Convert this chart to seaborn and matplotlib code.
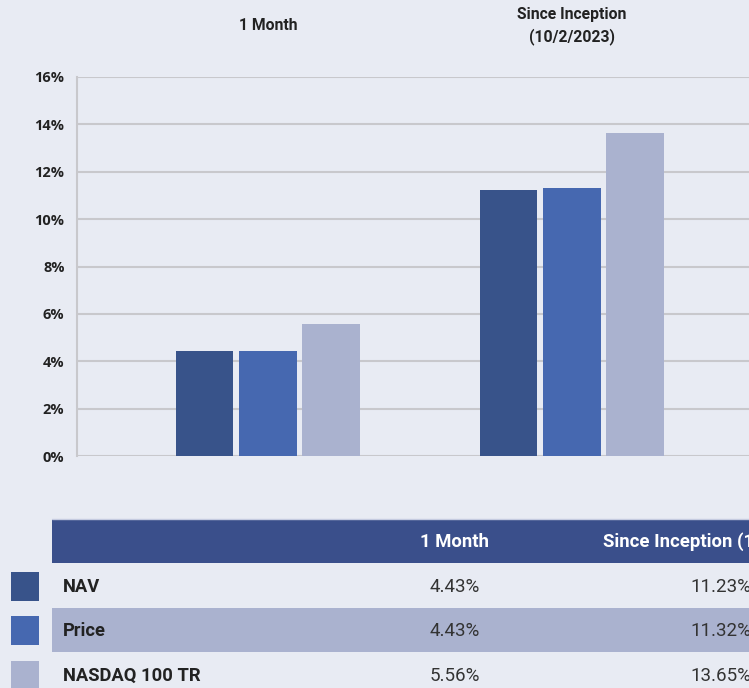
import pandas as pd
import seaborn as sns
import matplotlib.pyplot as plt
from matplotlib.patches import Rectangle
from matplotlib.ticker import FuncFormatter

periods = ["1 Month", "Since Inception\n(10/2/2023)"]
period_headers = ["1 Month", "Since Inception (10/2/2023)"]
series = ["NAV", "Price", "NASDAQ 100 TR"]
nav = [4.43, 11.23]
price = [4.43, 11.32]
nasdaq = [5.56, 13.65]
colors = ["#38538a", "#4668b0", "#aab2cf"]

BG = "#e8ebf3"
GRID = "#c8c8cc"
TXT = "#222222"

df = pd.DataFrame({
    "period": periods * 3,
    "series": [s for s in series for _ in periods],
    "value": nav + price + nasdaq,
})

sns.set_theme(style="white")
plt.rcParams["font.family"] = ["Roboto", "DejaVu Sans"]

W, H = 749, 688
fig = plt.figure(figsize=(W / 100, H / 100), dpi=100, facecolor=BG)

# chart area in pixel terms
left, right, top, bottom = 77, 749, 77, 456
ax = fig.add_axes([left / W, 1 - bottom / H, (right - left) / W, (bottom - top) / H])
ax.set_facecolor(BG)

sns.barplot(
    data=df, x="period", y="value", hue="series",
    order=periods, hue_order=series, palette=colors,
    width=0.625, gap=0.09, saturation=1, linewidth=0,
    legend=False, ax=ax,
)

ax.set_ylim(0, 16)
ax.set_yticks(range(0, 17, 2))
ax.yaxis.set_major_formatter(FuncFormatter(lambda v, _: f"{v:.0f}%"))
ax.set_xlim(-0.628, -0.628 + (right - left) / 304)
ax.grid(axis="y", color=GRID, linewidth=1.5)
ax.set_axisbelow(True)
for s in ["top", "right", "bottom"]:
    ax.spines[s].set_visible(False)
ax.spines["left"].set_color(GRID)
ax.spines["left"].set_linewidth(1.5)
ax.set_xlabel("")
ax.set_ylabel("")

ax.tick_params(axis="y", length=0, pad=9)
for t in ax.get_yticklabels():
    t.set_fontfamily(["Open Sans", "DejaVu Sans"])
    t.set_fontweight("bold")
    t.set_fontsize(10.5)
    t.set_color(TXT)

ax.xaxis.tick_top()
ax.tick_params(axis="x", length=0, pad=37)
for t in ax.get_xticklabels():
    t.set_va("center")
    t.set_fontweight("bold")
    t.set_fontsize(11.3)
    t.set_color(TXT)
    t.set_linespacing(1.45)

# table below the chart
tab = fig.add_axes([0, 0, 1, 1])
tab.set_xlim(0, W)
tab.set_ylim(H, 0)
tab.axis("off")
tab.patch.set_visible(False)

tab.add_patch(Rectangle((52, 519), W, 44, color="#3a4f8b", lw=0))
tab.add_patch(Rectangle((52, 608), W, 44, color="#aab2cf", lw=0))
tab.add_line(plt.Line2D([52, W], [519, 519], color="#c5cbe0", lw=1))

col_x = [455, 721]
for x, h in zip(col_x, period_headers):
    tab.text(x, 542, h, ha="center", va="center", color="white",
             fontsize=13.3, fontweight="bold")

row_y = [587, 631, 676]
values = [nav, price, nasdaq]
for y, name, c, vals in zip(row_y, series, colors, values):
    tab.add_patch(Rectangle((11, y - 15), 28, 29, color=c, lw=0))
    tab.text(63, y, name, ha="left", va="center", color=TXT,
             fontsize=13.2, fontweight="bold")
    for x, v in zip(col_x, vals):
        tab.text(x, y, f"{v:.2f}%", ha="center", va="center", color="#333333",
                 fontsize=13.5)

fig.savefig("out.png", dpi=100, facecolor=BG)
